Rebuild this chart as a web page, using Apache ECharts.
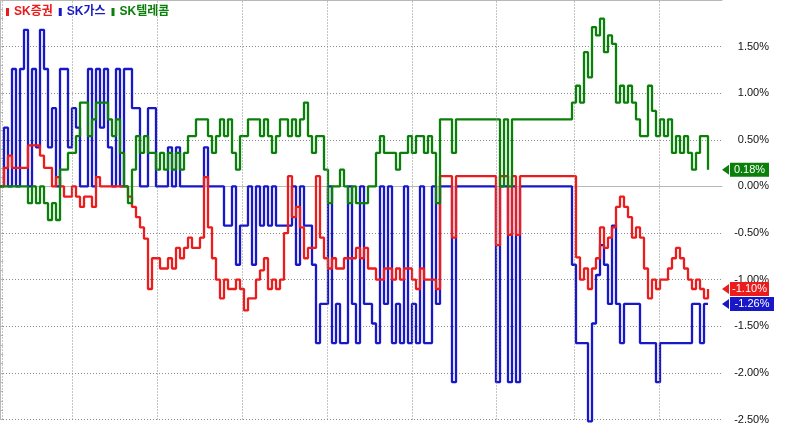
<!DOCTYPE html>
<html><head><meta charset="utf-8">
<script src="https://cdn.jsdelivr.net/npm/echarts@6/dist/echarts.min.js"></script>
<style>html,body{margin:0;padding:0;background:#fff}#c{width:789px;height:425px}</style>
</head><body><div id="c"></div>
<script>
// Intraday % change, one value per time step
const names = ['SK증권', 'SK가스', 'SK텔레콤'];
const colors = ['#ec1c1c', '#1818c8', '#0a7f0a'];

const skSec = [0,0.2,0.33,0.2,0.2,0.2,0.2,0.44,0.44,0.44,0.33,0.2,0.2,0,0.1,0,-0.11,-0.11,0,-0.11,
-0.22,-0.11,-0.11,-0.22,0.1,0,0,0,0,0,0,0,-0.11,-0.22,-0.33,-0.44,-0.56,-1.1,-0.77,-0.77,
-0.88,-0.88,-0.77,-0.88,-0.66,-0.77,-0.66,-0.55,-0.66,-0.66,-0.55,0.1,-0.44,-0.77,-1.0,-1.2,-1.0,-1.1,-1.1,-1.0,
-1.1,-1.33,-1.2,-1.2,-1.0,-0.9,-0.77,-1.1,-1.0,-1.1,-1.0,-0.5,0.11,-0.33,-0.22,-0.44,-0.77,-0.66,-0.66,0.11,
-0.55,-0.77,-0.88,-0.77,-0.88,-0.88,-0.77,-0.77,-0.77,-0.66,-0.77,-0.66,-0.88,-0.88,-1.0,-1.0,-0.88,-0.88,-1.0,-0.88,
-1.0,-0.88,-0.88,-1.0,-1.1,-0.88,-1.0,-1.0,-1.0,-1.1,0.11,0.11,0.11,-0.55,0.11,0.11,0.11,0.11,0.11,0.11,
0.11,0.11,0.11,0.11,-0.63,0.11,0.11,-0.52,0.11,-0.52,0.11,0.11,0.11,0.11,0.11,0.11,0.11,0.11,0.11,0.11,
0.11,0.11,0.11,0.11,-0.76,-1.0,-0.88,-1.1,-0.88,-0.77,-0.44,-0.66,-0.55,-0.44,-0.22,-0.11,-0.22,-0.33,-0.55,-0.44,
-0.55,-0.88,-1.2,-1.0,-1.1,-1.0,-1.0,-0.88,-0.77,-0.66,-0.77,-0.88,-1.0,-1.1,-1.0,-1.1,-1.2,-1.1];

const skGas = [0,0.63,0,1.26,0,1.26,1.68,0,1.26,0.42,1.68,1.26,0.42,0.84,0,1.26,1.26,0.42,0.84,0.63,
0,0,1.26,0,1.26,0.63,1.26,0.42,0,1.26,0,1.26,1.26,0.84,0.84,0,0,0.84,0.84,0,
0,0,0.42,0,0.42,0,0,0,0,0,0,0.42,0,0,0,0,-0.42,-0.42,0,-0.84,
-0.42,-0.42,0,-0.84,0,-0.42,0,-0.42,0,-0.42,-0.42,-0.42,-0.42,0,-0.84,0,-0.42,-0.42,-0.84,-1.68,
-1.26,-1.26,0,-1.68,-1.26,-1.68,-1.68,0,-1.26,-1.68,0,-1.26,-1.26,-1.47,-1.68,0,-1.26,0,-1.68,-1.26,
-1.68,0,-1.68,-1.26,-1.68,0,-1.68,-1.68,0,-1.26,0,0,0,-2.1,0,0,0,0,0,0,
0,0,0,0,-2.1,0,0,-2.1,0,-2.1,0,0,0,0,0,0,0,0,0,0,
0,0,0,-0.84,-1.68,-1.68,-1.68,-2.52,-1.47,-0.95,-0.63,-0.84,-1.26,-0.42,-1.26,-1.68,-1.26,-1.26,-1.26,-1.26,
-1.68,-1.68,-1.68,-1.68,-2.1,-1.68,-1.68,-1.68,-1.68,-1.68,-1.68,-1.68,-1.68,-1.26,-1.26,-1.68,-1.26,-1.26];

const skTel = [0,0,0,0,0,0,0,-0.18,0,-0.18,0,-0.18,-0.36,-0.18,-0.36,0.18,0.18,0.36,0.36,0.54,
0.9,0.9,0.54,0.72,0.9,0.9,0.9,0.72,0.54,0.72,0.36,0,-0.18,0.18,0.54,0.36,0.54,0.36,0.36,0.18,
0.36,0.18,0.36,0.18,0.36,0.18,0.36,0.54,0.54,0.72,0.72,0.72,0.54,0.36,0.54,0.72,0.54,0.72,0.36,0.18,
0.54,0.54,0.72,0.72,0.72,0.54,0.72,0.54,0.36,0.54,0.72,0.72,0.54,0.72,0.54,0.72,0.9,0.54,0.36,0.54,
0.54,0.18,-0.18,0,0,0.18,0,-0.18,0,-0.18,-0.18,-0.18,0,0,0.36,0.54,0.36,0.36,0.36,0.18,
0.36,0.36,0.54,0.36,0.54,0.54,0.36,0.54,0.36,-0.18,0.72,0.72,0.72,0.36,0.72,0.72,0.72,0.72,0.72,0.72,
0.72,0.72,0.72,0.72,0.72,0,0.72,0,0.72,0.72,0.72,0.72,0.72,0.72,0.72,0.72,0.72,0.72,0.72,0.72,
0.72,0.72,0.72,0.9,1.08,0.9,1.44,1.17,1.71,1.62,1.8,1.44,1.62,1.53,0.9,1.08,0.9,1.08,0.9,0.72,
0.54,0.54,1.08,0.81,0.54,0.72,0.54,0.72,0.36,0.54,0.36,0.54,0.36,0.18,0.36,0.54,0.54,0.18];

// hour boundaries (time-step units) and axis settings
const timeMarks = [0.5, 18, 39.25, 60.5, 81.75, 103, 124, 143.5, 164.75];
const xMax = 180.5;
const yMin = -2.5, yMax = 2.0, yStep = 0.5;

const seriesValues = [skSec, skGas, skTel];
const tagWidths = [47, 52, 47];
const zs = [3, 2, 4];

const chart = echarts.init(document.getElementById('c'));
const series = seriesValues.map((vals, k) => {
  const last = vals[vals.length - 1];
  const w = tagWidths[k];
  const s = {
    name: names[k], type: 'line', step: 'end', showSymbol: false, symbol: 'none',
    clip: false, z: zs[k],
    lineStyle: { color: colors[k], width: 2.3 }, itemStyle: { color: colors[k] },
    data: vals.map((v, i) => [i, v]),
    markPoint: {
      silent: true, animation: false,
      symbol: 'path://M0,7L7,2L7,12Z M8,0L' + w + ',0L' + w + ',14L8,14Z',
      symbolSize: [w, 14], symbolOffset: [w / 2, 0], symbolKeepAspect: false,
      itemStyle: { color: colors[k] },
      label: { show: true, position: 'inside', offset: [4, 0], color: '#fff',
        fontFamily: 'Liberation Sans', fontSize: 11, formatter: last.toFixed(2) + '%' },
      data: [{ coord: [xMax, last] }]
    }
  };
  if (k === 1) {
    s.markLine = {
      silent: true, symbol: ['none', 'none'], animation: false,
      label: { show: false },
      lineStyle: { color: '#8a8a8a', width: 1, type: [1, 2] },
      data: timeMarks.map(t => ({ xAxis: t }))
    };
  }
  return s;
});

chart.setOption({
  animation: false,
  backgroundColor: '#fff',
  legend: {
    left: 6, top: 6, padding: 0, itemWidth: 3, itemHeight: 8, itemGap: 6, icon: 'rect',
    selectedMode: false,
    textStyle: { fontFamily: "'Liberation Sans', 'Noto Sans CJK KR'", fontSize: 12, fontWeight: 'bold' },
    data: names.map((n, k) => ({ name: n, textStyle: { color: colors[k] } }))
  },
  grid: { left: 0, right: 67, top: 0, bottom: 5 },
  xAxis: [
    { type: 'value', min: 0, max: xMax, offset: 4,
      axisLine: { show: true, lineStyle: { color: '#b8b8b8' } },
      axisTick: { show: false }, axisLabel: { show: false }, splitLine: { show: false } },
    { type: 'value', position: 'top', min: 0, max: xMax,
      axisLine: { show: true, lineStyle: { color: '#b8b8b8' } },
      axisTick: { show: false }, axisLabel: { show: false }, splitLine: { show: false } }
  ],
  yAxis: {
    type: 'value', position: 'right', min: yMin, max: yMax, interval: yStep,
    axisLine: { show: true, lineStyle: { color: '#b8b8b8' } },
    axisTick: { show: true, length: 3, lineStyle: { color: '#b8b8b8' } },
    minorTick: { show: true, splitNumber: 5, length: 3, lineStyle: { color: '#b8b8b8' } },
    splitLine: { show: true, lineStyle: { color: '#8a8a8a', width: 1, type: [1, 2] } },
    axisLabel: {
      showMaxLabel: false, align: 'right', margin: 47, color: '#111',
      fontFamily: 'Liberation Sans', fontSize: 11, padding: [0, 0, 5, 0],
      formatter: v => v.toFixed(2) + '%'
    }
  },
  series: series
});
</script></body></html>
